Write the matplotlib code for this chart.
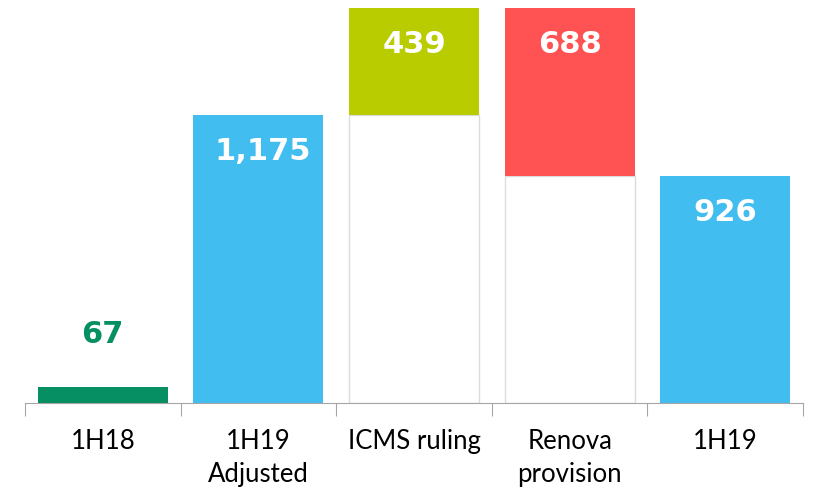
import matplotlib
matplotlib.use("Agg")
import matplotlib.pyplot as plt

categories = ["1H18", "1H19\nAdjusted", "ICMS ruling", "Renova\nprovision", "1H19"]
values = [67, 1175, 439, 688, 926]
bases = [0, 0, 1175, 926, 0]
labels = ["67", "1,175", "439", "688", "926"]
colors = ["#058f62", "#41bdef", "#b9cc00", "#ff5252", "#41bdef"]


def create_chart():
    fig = plt.figure(figsize=(8.15, 4.95), dpi=100)
    ax = fig.add_axes([25 / 815, 1 - 403 / 495, 778 / 815, 395 / 495])
    x = list(range(len(categories)))

    # invisible bases for the floating steps
    for i in x:
        if bases[i] > 0:
            ax.bar(i, bases[i], width=0.835, color="white",
                   edgecolor="#dcdcdc", linewidth=1.0, zorder=1)
    ax.bar(x, values, bottom=bases, width=0.835, color=colors, zorder=2)

    for i in x:
        top = bases[i] + values[i]
        if i == 0:
            ax.text(i, top + 52 / 0.2447, labels[i], ha="center", va="center",
                    color=colors[0], fontsize=22, fontweight="heavy")
        else:
            dx = 0.03 if i == 1 else 0
            ax.text(i + dx, top - 36 / 0.2447, labels[i], ha="center", va="center",
                    color="white", fontsize=22, fontweight="heavy")

    ax.set_xlim(-0.5, 4.5)
    ax.set_ylim(0, 1614)
    for s in ["top", "right", "left"]:
        ax.spines[s].set_visible(False)
    ax.spines["bottom"].set_color("#a6a6a6")
    ax.set_yticks([])
    ax.set_xticks([i - 0.5 for i in range(6)], minor=False)
    ax.set_xticklabels([])
    ax.tick_params(axis="x", which="major", length=9, color="#a6a6a6")
    ax.set_xticks(x, minor=True)
    ax.set_xticklabels(categories, minor=True, fontsize=18.5, family="Lato",
                       linespacing=1.4)
    ax.tick_params(axis="x", which="minor", length=0, pad=19)
    for t in ax.get_xticklabels(minor=True):
        t.set_va("top")
    fig.savefig("out.png", dpi=100)


if __name__ == '__main__':
    create_chart()
